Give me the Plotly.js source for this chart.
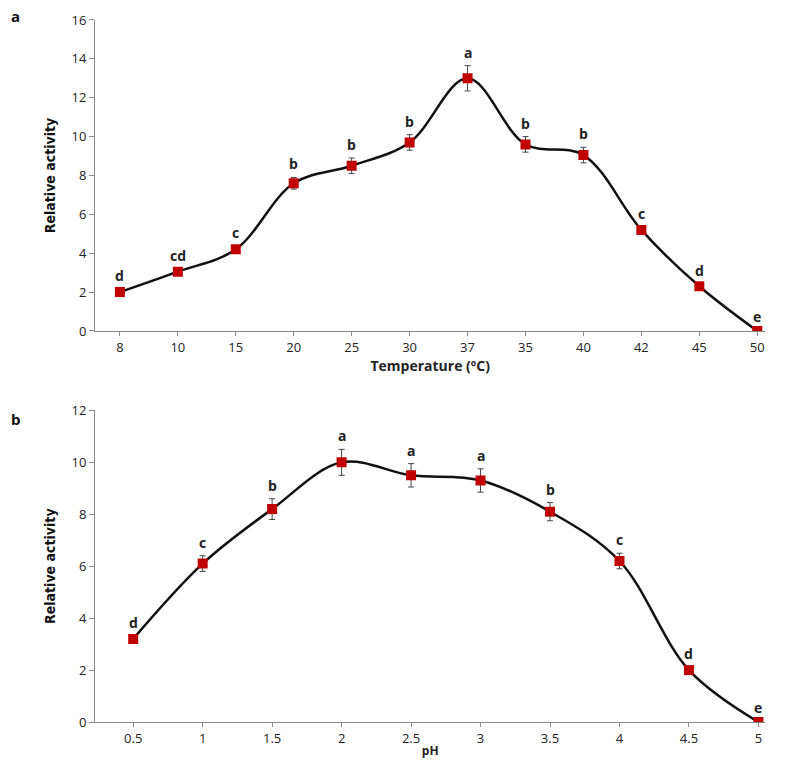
<!DOCTYPE html>
<html>
<head>
<meta charset="utf-8">
<script src="https://cdn.plot.ly/plotly-3.0.1.min.js"></script>
<style>body{margin:0;background:#fff}#chart{width:785px;height:760px}</style>
</head>
<body>
<div id="chart"></div>
<script>
// Panel a: temperature
const tempLabels = ['8', '10', '15', '20', '25', '30', '37', '35', '40', '42', '45', '50'];
const tempValues = [2.0, 3.05, 4.2, 7.6, 8.5, 9.7, 13.0, 9.6, 9.05, 5.2, 2.3, 0];
const tempErrors = [0.15, 0.12, 0.15, 0.3, 0.4, 0.4, 0.65, 0.4, 0.4, 0.15, 0.12, 0.05];
const tempLetters = ['d', 'cd', 'c', 'b', 'b', 'b', 'a', 'b', 'b', 'c', 'd', 'e'];

// Panel b: pH
const phLabels = ['0.5', '1', '1.5', '2', '2.5', '3', '3.5', '4', '4.5', '5'];
const phValues = [3.2, 6.1, 8.2, 10.0, 9.5, 9.3, 8.1, 6.2, 2.0, 0];
const phErrors = [0.1, 0.3, 0.4, 0.5, 0.45, 0.45, 0.35, 0.3, 0.1, 0.05];
const phLetters = ['d', 'c', 'b', 'a', 'a', 'a', 'b', 'c', 'd', 'e'];

const red = '#C00000';
const axisFont = { family: 'Open Sans, Arial, sans-serif', size: 13, color: '#222' };
const narrow = 'Liberation Sans Narrow, Arial Narrow, DejaVu Sans Condensed, sans-serif';

function series(x, y, err, xa, ya) {
    return {
        type: 'scatter', mode: 'lines+markers', x: x, y: y, xaxis: xa, yaxis: ya,
        line: { color: '#111', width: 2.5, shape: 'spline', smoothing: 1 },
        marker: { color: red, size: 10, symbol: 'square' },
        error_y: { type: 'data', array: err, visible: true, color: '#444', thickness: 1, width: 3 },
        showlegend: false, hoverinfo: 'x+y'
    };
}

// letters above each error bar; category axes take the index as position
function letters(y, err, labels, xa, ya) {
    return labels.map((t, i) => ({
        x: i, y: y[i] + err[i], xref: xa, yref: ya, text: '<b>' + t + '</b>',
        showarrow: false, yanchor: 'bottom', yshift: 2,
        font: { family: 'Open Sans, Arial, sans-serif', size: 14, color: '#222' }
    }));
}

const traces = [
    series(tempLabels, tempValues, tempErrors, 'x', 'y'),
    series(phLabels, phValues, phErrors, 'x2', 'y2')
];

const baseX = {
    type: 'category', showgrid: false, zeroline: false, showline: true, linecolor: '#888', linewidth: 1,
    ticks: 'outside', ticklen: 4, tickcolor: '#888', tickfont: axisFont
};
const baseY = {
    showgrid: false, zeroline: false, showline: true, linecolor: '#888', linewidth: 1,
    ticks: 'outside', ticklen: 5, tickcolor: '#888', tickfont: axisFont, dtick: 2
};

const layout = {
    width: 785, height: 760,
    margin: { t: 0, r: 0, b: 0, l: 0 },
    paper_bgcolor: '#fff', plot_bgcolor: '#fff',
    xaxis: Object.assign({}, baseX, {
        domain: [0.121, 0.975], anchor: 'y', range: [-0.43, 11.14],
        title: { text: '<b>Temperature (ºC)</b>', font: { family: 'Open Sans, Arial, sans-serif', size: 14, color: '#222' }, standoff: 6 }
    }),
    yaxis: Object.assign({}, baseY, {
        domain: [0.5645, 0.9737], anchor: 'x', range: [0, 16],
        title: { text: '<b>Relative activity</b>', font: { family: narrow, size: 14, color: '#111' }, standoff: 12 }
    }),
    xaxis2: Object.assign({}, baseX, {
        domain: [0.121, 0.975], anchor: 'y2', range: [-0.55, 9.1],
        title: { text: '<b>pH</b>', font: { family: 'Open Sans, Arial, sans-serif', size: 12, color: '#222' }, standoff: 1 }
    }),
    yaxis2: Object.assign({}, baseY, {
        domain: [0.05, 0.46], anchor: 'x2', range: [0, 12],
        title: { text: '<b>Relative activity</b>', font: { family: narrow, size: 14, color: '#111' }, standoff: 12 }
    }),
    annotations: letters(tempValues, tempErrors, tempLetters, 'x', 'y')
        .concat(letters(phValues, phErrors, phLetters, 'x2', 'y2'))
        .concat([
            { text: '<b>a</b>', xref: 'paper', yref: 'paper', x: 0.012, y: 0.995, showarrow: false, xanchor: 'left', yanchor: 'top', font: { family: 'Open Sans, Arial', size: 15, color: '#111' } },
            { text: '<b>b</b>', xref: 'paper', yref: 'paper', x: 0.012, y: 0.465, showarrow: false, xanchor: 'left', yanchor: 'top', font: { family: 'Open Sans, Arial', size: 15, color: '#111' } }
        ])
};

Plotly.newPlot('chart', traces, layout, { displayModeBar: false });
</script>
</body>
</html>
